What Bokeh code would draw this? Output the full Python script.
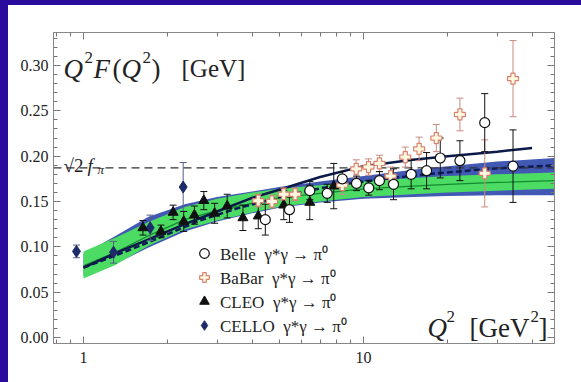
from bokeh.plotting import figure
from bokeh.models import (Range1d, FixedTicker, LinearAxis, LogAxis, LogScale, Whisker, TeeHead,
                          ColumnDataSource, Label, Legend, LegendItem, Span,
                          PrintfTickFormatter, CustomJSTickFormatter, Div)
from bokeh.layouts import column, row
from bokeh.embed import file_html
from bokeh.resources import INLINE

# ---------------- data ----------------
band_q = [1.0, 1.3, 1.7, 2.3, 3.0, 4.0, 5.0, 7.0, 10.0, 15.0, 20.0, 30.0, 48.0]
green_lo = [0.065, 0.080, 0.101, 0.119, 0.129, 0.138, 0.144, 0.150, 0.155, 0.158, 0.160, 0.162, 0.164]
green_hi = [0.095, 0.110, 0.127, 0.144, 0.153, 0.160, 0.164, 0.168, 0.172, 0.176, 0.178, 0.180, 0.182]
blue_lo = [0.068, 0.081, 0.099, 0.117, 0.128, 0.137, 0.143, 0.149, 0.153, 0.155, 0.156, 0.157, 0.157]
blue_hi = [0.092, 0.112, 0.133, 0.147, 0.155, 0.161, 0.166, 0.172, 0.178, 0.185, 0.189, 0.194, 0.198]
green_mid = [0.079, 0.094, 0.112, 0.130, 0.140, 0.148, 0.154, 0.159, 0.164, 0.167, 0.169, 0.171, 0.173]

solid_q = [1.0, 1.3, 1.7, 2.3, 3.0, 4.0, 5.0, 7.0, 10.0, 15.0, 20.0, 30.0, 40.0]
solid_v = [0.077, 0.093, 0.108, 0.125, 0.139, 0.154, 0.163, 0.177, 0.189, 0.196, 0.200, 0.205, 0.209]

dashed_q = [1.0, 1.5, 2.0, 2.6, 3.5, 5.5, 8.0, 12.0, 18.0, 28.0, 48.0]
dashed_v = [0.077, 0.098, 0.114, 0.129, 0.142, 0.158, 0.168, 0.175, 0.181, 0.186, 0.190]

sqrt2_fpi = 0.187

belle_q = [4.46, 5.44, 6.43, 7.42, 8.4, 9.44, 10.44, 11.4, 12.8, 14.8, 16.8, 18.8, 22.1, 27.1, 34.2]
belle_v = [0.130, 0.141, 0.162, 0.159, 0.175, 0.170, 0.165, 0.173, 0.169, 0.180, 0.184, 0.198, 0.195, 0.237, 0.189]
belle_e = [0.017, 0.014, 0.010, 0.010, 0.008, 0.008, 0.008, 0.010, 0.017, 0.016, 0.020, 0.022, 0.022, 0.032, 0.040]

babar_q = [4.21, 4.71, 5.19, 5.7, 8.4, 9.42, 10.42, 11.4, 12.5, 14.1, 15.8, 18.2, 22.1, 27.1, 34.2]
babar_v = [0.151, 0.150, 0.158, 0.158, 0.168, 0.186, 0.188, 0.192, 0.178, 0.199, 0.208, 0.220, 0.246, 0.181, 0.2855]
babar_e = [0.007, 0.007, 0.007, 0.007, 0.010, 0.010, 0.009, 0.009, 0.010, 0.011, 0.013, 0.015, 0.018, 0.037, 0.042]

cleo_q = [1.63, 1.89, 2.09, 2.28, 2.49, 2.69, 2.94, 3.26, 3.71, 4.21, 5.19, 6.43, 7.83]
cleo_v = [0.121, 0.117, 0.138, 0.128, 0.135, 0.151, 0.137, 0.145, 0.132, 0.134, 0.146, 0.149, 0.167]
cleo_e = [0.008, 0.007, 0.008, 0.011, 0.010, 0.010, 0.011, 0.013, 0.014, 0.014, 0.016, 0.019, 0.025]

cello_q = [0.944, 1.28, 1.73, 2.27]
cello_v = [0.095, 0.094, 0.121, 0.166]
cello_e = [0.007, 0.012, 0.014, 0.027]

x_major = [1, 10]
x_minor = [0.8, 0.9, 2, 3, 4, 5, 6, 7, 8, 9, 20, 30, 40]
y_major = [0.0, 0.05, 0.10, 0.15, 0.20, 0.25, 0.30]
y_minor = [round(0.01 * i, 2) for i in range(0, 34) if i % 5]

legend_labels = ["Belle  γ*γ → π⁰", "BaBar  γ*γ → π⁰", "CLEO  γ*γ → π⁰", "CELLO  γ*γ → π⁰"]

SERIF = "Liberation Serif"
FRAME_BLUE = "#2a0c9c"

# ---------------- figure ----------------
p = figure(x_axis_type=None, y_axis_type=None, x_axis_location=None, y_axis_location=None,
           x_range=Range1d(0.7814, 48.1), y_range=Range1d(-0.0066, 0.3364),
           frame_width=501, frame_height=311,
           min_border_left=45, min_border_right=27, min_border_top=27, min_border_bottom=39,
           output_backend="svg", toolbar_location=None, margin=0)
p.x_scale = LogScale()
p.grid.visible = False
p.outline_line_color = "#888888"
p.background_fill_color = "white"
p.border_fill_color = "white"

xticker = FixedTicker(ticks=x_major, minor_ticks=x_minor)
yticker = FixedTicker(ticks=y_major, minor_ticks=y_minor)
blank = CustomJSTickFormatter(code="return ''")

bottom = LogAxis(ticker=xticker, formatter=PrintfTickFormatter(format="%d"))
left = LinearAxis(ticker=yticker, formatter=PrintfTickFormatter(format="%.2f"))
top = LogAxis(ticker=xticker, formatter=blank)
right = LinearAxis(ticker=yticker, formatter=blank)
p.add_layout(bottom, "below")
p.add_layout(left, "left")
p.add_layout(top, "above")
p.add_layout(right, "right")

for ax in [bottom, left, top, right]:
    ax.axis_line_color = "#888888"
    ax.major_tick_line_color = "#777777"
    ax.minor_tick_line_color = "#777777"
    ax.major_tick_in = 7
    ax.major_tick_out = 0
    ax.minor_tick_in = 4
    ax.minor_tick_out = 0
for ax in [bottom, left]:
    ax.major_label_text_font = SERIF
    ax.major_label_text_font_size = "16px"
    ax.major_label_text_color = "#222222"
left.major_label_standoff = 5
bottom.major_label_standoff = 8

# reference line
p.add_layout(Span(location=sqrt2_fpi, dimension="width", line_color="#333333",
                  line_width=1.2, line_dash="8 5", level="image"))

# bands and model curves
p.varea(x=band_q, y1=blue_lo, y2=blue_hi, fill_color="#4259b3", level="image")
p.varea(x=band_q, y1=green_lo, y2=green_hi, fill_color="#4cdc64", level="image")
p.line(band_q, green_mid, line_color="#138a2e", line_width=1.3, level="image")
p.line(dashed_q, dashed_v, line_color="#0c1a55", line_width=2.5, line_dash="6 3", level="image")
p.line(solid_q, solid_v, line_color="#0c1a4a", line_width=2.5, level="image")


def errbars(q, v, e, color):
    src = ColumnDataSource(dict(x=q, y=v, lo=[a - b for a, b in zip(v, e)],
                                hi=[a + b for a, b in zip(v, e)]))
    w = Whisker(source=src, base="x", lower="lo", upper="hi", line_color=color, line_width=1,
                upper_head=TeeHead(size=7, line_color=color, line_width=1),
                lower_head=TeeHead(size=7, line_color=color, line_width=1),
                level="underlay")
    p.add_layout(w)
    return src


s_cello = errbars(cello_q, cello_v, cello_e, "#55608a")
s_cleo = errbars(cleo_q, cleo_v, cleo_e, "#111111")
s_babar = errbars(babar_q, babar_v, babar_e, "#c98a80")
s_belle = errbars(belle_q, belle_v, belle_e, "#111111")

r_cello = p.scatter("x", "y", source=s_cello, marker="diamond", size=12,
                    fill_color="#1d2b6b", line_color="#1d2b6b")
r_cleo = p.scatter("x", "y", source=s_cleo, marker="triangle", size=10,
                   fill_color="#111111", line_color="#111111")
r_babar = p.scatter("x", "y", source=s_babar, marker="plus", size=11,
                    fill_color="#fff8e0", line_color="#d9826f", line_width=1.2)
r_belle = p.scatter("x", "y", source=s_belle, marker="circle", size=10,
                    fill_color="white", line_color="#111111", line_width=1.2)

legend = Legend(items=[LegendItem(label=legend_labels[0], renderers=[r_belle]),
                       LegendItem(label=legend_labels[1], renderers=[r_babar]),
                       LegendItem(label=legend_labels[2], renderers=[r_cleo]),
                       LegendItem(label=legend_labels[3], renderers=[r_cello])],
                location=(139, 6), glyph_width=24, glyph_height=24, label_height=20,
                spacing=0, padding=0, margin=0, label_standoff=4,
                border_line_color=None, background_fill_alpha=0,
                label_text_font=SERIF, label_text_font_size="17px",
                label_text_color="#222222")
p.add_layout(legend, "center")

# text pieces (page coords converted to frame-relative screen coords)
FL, FB = 53, 343


def txt(t, xp, yp, size, style="normal"):
    p.add_layout(Label(x=xp - FL, y=FB - yp, x_units="screen", y_units="screen", text=t,
                       text_font=SERIF, text_font_size=f"{size}px", text_font_style=style,
                       text_baseline="alphabetic", text_color="#222222"))


txt("Q", 63, 68, 27, "italic")
txt("2", 84, 57, 17)
txt("F", 93, 68, 27, "italic")
txt("(", 112, 68, 27)
txt("Q", 121, 68, 27, "italic")
txt("2", 142, 57, 17)
txt(")", 151, 68, 27)
txt("[GeV]", 181, 68, 25)

txt("√2", 63, 165, 19)
txt("f", 87, 165, 19, "italic")
txt("π", 97, 169, 13, "italic")

txt("Q", 427, 327, 27, "italic")
txt("2", 446, 316, 17)
txt("[GeV", 469, 327, 27)
txt("2", 530, 316, 17)
txt("]", 538, 327, 27)

top_bar = Div(width=581, height=5, margin=0, styles={"background-color": FRAME_BLUE})
left_bar = Div(width=8, height=377, margin=0, styles={"background-color": FRAME_BLUE})
page = column(top_bar, row(left_bar, p, margin=0, spacing=0), margin=0, spacing=0)

open("out.html", "w").write(file_html(page, INLINE))
